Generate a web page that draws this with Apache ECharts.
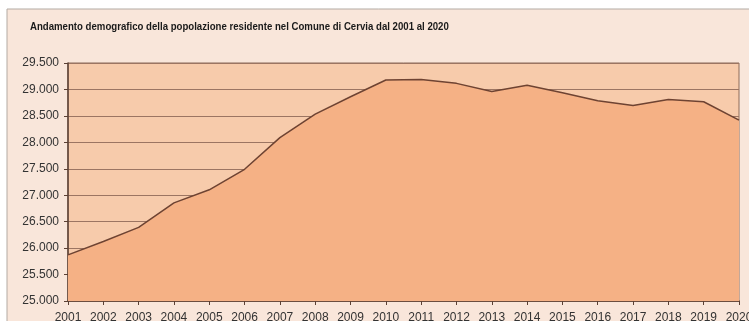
<!DOCTYPE html>
<html>
<head>
<meta charset="utf-8">
<script src="https://cdn.jsdelivr.net/npm/echarts@6/dist/echarts.min.js"></script>
<style>
  html, body { margin: 0; padding: 0; background: #ffffff; }
  #chart { width: 749px; height: 321px; }
</style>
</head>
<body>
<div id="chart"></div>
<script>
// Popolazione residente a Cervia, 2001-2020
const anni = ['2001','2002','2003','2004','2005','2006','2007','2008','2009','2010',
              '2011','2012','2013','2014','2015','2016','2017','2018','2019','2020'];
const residenti = [25873, 26126, 26392, 26855, 27102, 27490, 28090, 28534, 28862, 29178,
                   29190, 29115, 28963, 29078, 28938, 28786, 28697, 28812, 28767, 28420];
const titolo = 'Andamento demografico della popolazione residente nel Comune di Cervia dal 2001 al 2020';

const fmt = v => String(v).replace(/\B(?=(\d{3})+(?!\d))/g, '.');

const chart = echarts.init(document.getElementById('chart'), null, { renderer: 'canvas' });
chart.setOption({
  backgroundColor: '#ffffff',
  animation: false,
  graphic: [{
    type: 'rect',
    z: -10,
    shape: { x: 7, y: 9, width: 760, height: 340 },
    style: { fill: '#f9e6da', stroke: '#b3aaa3', lineWidth: 1 }
  }, {
    // condensed title
    type: 'text',
    x: 30, y: 27,
    scaleX: 0.875,
    style: {
      text: titolo,
      fontFamily: '"Liberation Sans", Arial, sans-serif',
      fontWeight: 'bold', fontSize: 11, fill: '#1a1a1a',
      verticalAlign: 'middle', align: 'left'
    }
  }],
  grid: {
    left: 68, right: 10, top: 63, bottom: 20,
    outerBoundsMode: 'none',
    containLabel: false,
    show: true, backgroundColor: '#f7cbab', borderColor: '#8c6a58', borderWidth: 1
  },
  xAxis: {
    type: 'category',
    data: anni,
    boundaryGap: false,
    axisLine: { lineStyle: { color: '#5b4034', width: 1.5 } },
    axisTick: { show: true, length: 4, lineStyle: { color: '#5b4034' } },
    axisLabel: { color: '#333333', fontSize: 12, margin: 11, hideOverlap: false,
                 fontFamily: '"Liberation Sans", Arial, sans-serif' },
    splitLine: { show: false }
  },
  yAxis: {
    type: 'value',
    min: 25000, max: 29500, interval: 500,
    axisLine: { show: true, lineStyle: { color: '#5b4034', width: 1.5 } },
    axisTick: { show: true, length: 4, lineStyle: { color: '#5b4034' } },
    axisLabel: { color: '#333333', fontSize: 12, margin: 9, formatter: fmt,
                 fontFamily: '"Liberation Sans", Arial, sans-serif' },
    splitLine: { show: true, lineStyle: { color: '#9c7562', width: 1.2 } }
  },
  series: [{
    type: 'line',
    data: residenti,
    symbol: 'none',
    lineStyle: { color: '#6e4332', width: 1.5 },
    areaStyle: { color: '#f5b185', opacity: 1 },
    z: 3
  }]
});
</script>
</body>
</html>
